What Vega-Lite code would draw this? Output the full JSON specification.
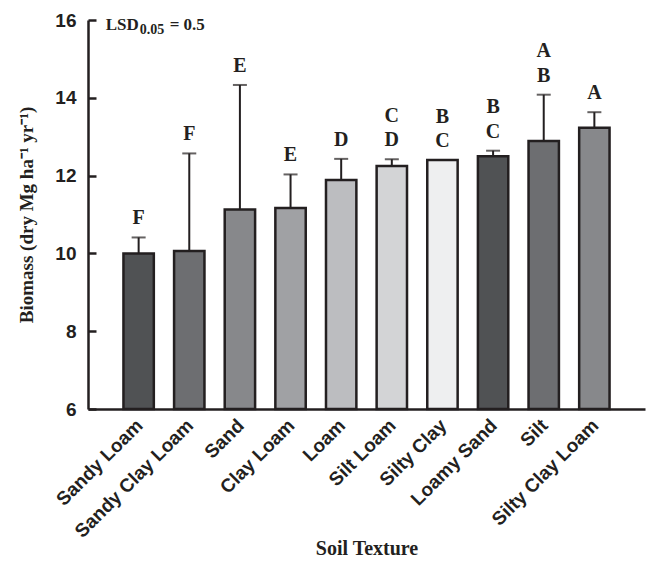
{
  "$schema": "https://vega.github.io/schema/vega-lite/v6.json",
  "width": 557,
  "height": 389,
  "autosize": {"type": "none"},
  "padding": {"left": 88, "top": 20, "right": 1, "bottom": 157},
  "background": "white",
  "config": {"view": {"stroke": null}},
  "data": {"values": [
    {"texture": "Sandy Loam", "biomass": 10.0, "err": 10.41, "low": "F", "high": ""},
    {"texture": "Sandy Clay Loam", "biomass": 10.06, "err": 12.57, "low": "F", "high": ""},
    {"texture": "Sand", "biomass": 11.13, "err": 14.33, "low": "E", "high": ""},
    {"texture": "Clay Loam", "biomass": 11.17, "err": 12.03, "low": "E", "high": ""},
    {"texture": "Loam", "biomass": 11.89, "err": 12.43, "low": "D", "high": ""},
    {"texture": "Silt Loam", "biomass": 12.25, "err": 12.42, "low": "D", "high": "C"},
    {"texture": "Silty Clay", "biomass": 12.4, "err": 12.4, "low": "C", "high": "B"},
    {"texture": "Loamy Sand", "biomass": 12.5, "err": 12.64, "low": "C", "high": "B"},
    {"texture": "Silt", "biomass": 12.89, "err": 14.08, "low": "B", "high": "A"},
    {"texture": "Silty Clay Loam", "biomass": 13.23, "err": 13.63, "low": "A", "high": ""}
  ]},
  "encoding": {
    "x": {
      "field": "texture", "type": "nominal", "sort": null,
      "scale": {"paddingInner": 0.4, "paddingOuter": 0.7},
      "axis": {
        "title": "Soil Texture",
        "titleFont": "Liberation Serif", "titleFontSize": 20, "titleFontWeight": "bold", "titleColor": "#231f20",
        "titlePadding": -3,
        "labelFont": "Liberation Sans", "labelFontSize": 19, "labelFontWeight": "bold", "labelColor": "#231f20",
        "labelAngle": -45, "labelAlign": "right", "labelBaseline": "middle", "labelPadding": 13, "labelOffset": 1,
        "ticks": false, "tickSize": 0, "domainColor": "#231f20", "domainWidth": 2.5,
        "labelOverlap": false, "labelBound": false
      }
    }
  },
  "layer": [
    {
      "mark": {"type": "bar", "stroke": "#231f20", "strokeWidth": 2.5},
      "encoding": {
        "y": {
          "field": "biomass", "type": "quantitative",
          "scale": {"domain": [6, 16], "zero": false, "nice": false},
          "axis": {
            "orient": "left",
            "title": "Biomass (dry Mg ha⁻¹ yr⁻¹)",
            "titleFont": "Liberation Serif", "titleFontSize": 19, "titleFontWeight": "bold", "titleColor": "#231f20",
            "titlePadding": 18,
            "values": [6, 8, 10, 12, 14, 16],
            "labelFont": "Liberation Sans", "labelFontSize": 19, "labelFontWeight": "bold", "labelColor": "#231f20",
            "labelPadding": 12,
            "grid": true, "gridColor": "#231f20", "gridWidth": 2.5, "gridDash": [8, 2000], "gridOpacity": 1,
            "ticks": false, "tickSize": 0,
            "domainColor": "#231f20", "domainWidth": 2.5
          }
        },
        "y2": {"datum": 6},
        "color": {
          "field": "texture", "type": "nominal", "legend": null,
          "scale": {
            "domain": ["Sandy Loam", "Sandy Clay Loam", "Sand", "Clay Loam", "Loam", "Silt Loam", "Silty Clay", "Loamy Sand", "Silt", "Silty Clay Loam"],
            "range": ["#505254", "#6d6e71", "#87888b", "#a0a1a4", "#bcbdc0", "#d3d4d6", "#eeeff0", "#505254", "#6d6e71", "#87888b"]
          }
        }
      }
    },
    {
      "transform": [{"filter": "datum.err > datum.biomass + 0.05"}],
      "mark": {"type": "rule", "color": "#231f20", "strokeWidth": 2},
      "encoding": {
        "y": {"field": "biomass", "type": "quantitative"},
        "y2": {"field": "err"}
      }
    },
    {
      "transform": [{"filter": "datum.err > datum.biomass + 0.05"}],
      "mark": {"type": "tick", "color": "#231f20", "thickness": 2, "size": 14},
      "encoding": {
        "y": {"field": "err", "type": "quantitative"}
      }
    },
    {
      "mark": {"type": "text", "font": "Liberation Serif", "fontSize": 20, "fontWeight": "bold", "color": "#231f20", "baseline": "alphabetic", "dy": -13},
      "encoding": {
        "y": {"field": "err", "type": "quantitative"},
        "text": {"field": "low"}
      }
    },
    {
      "mark": {"type": "text", "font": "Liberation Serif", "fontSize": 20, "fontWeight": "bold", "color": "#231f20", "baseline": "alphabetic", "dy": -37.5},
      "encoding": {
        "y": {"field": "err", "type": "quantitative"},
        "text": {"field": "high"}
      }
    },
    {
      "data": {"values": [{"t": "LSD"}]},
      "mark": {"type": "text", "font": "Liberation Serif", "fontSize": 17, "fontWeight": "bold", "color": "#231f20", "align": "left", "baseline": "alphabetic", "dx": -33, "dy": 9.5},
      "encoding": {"x": {"datum": "Sandy Loam"}, "y": {"datum": 16}, "text": {"field": "t"}}
    },
    {
      "data": {"values": [{"t": "0.05"}]},
      "mark": {"type": "text", "font": "Liberation Serif", "fontSize": 14, "fontWeight": "bold", "color": "#231f20", "align": "left", "baseline": "alphabetic", "dx": 1, "dy": 13.5},
      "encoding": {"x": {"datum": "Sandy Loam"}, "y": {"datum": 16}, "text": {"field": "t"}}
    },
    {
      "data": {"values": [{"t": "= 0.5"}]},
      "mark": {"type": "text", "font": "Liberation Serif", "fontSize": 17, "fontWeight": "bold", "color": "#231f20", "align": "left", "baseline": "alphabetic", "dx": 31, "dy": 9.5},
      "encoding": {"x": {"datum": "Sandy Loam"}, "y": {"datum": 16}, "text": {"field": "t"}}
    }
  ]
}
